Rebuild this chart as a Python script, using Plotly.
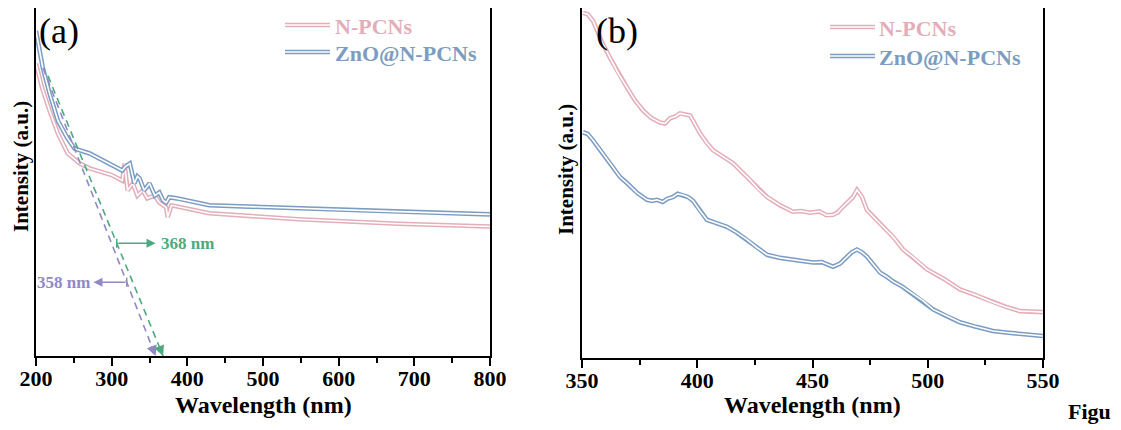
import plotly.graph_objects as go

# panel (a): absorption, wavelength (nm) vs intensity (a.u.)
wl_a_npcn = [200, 208, 218, 229, 242, 258, 271, 300, 314, 317, 321, 328, 334, 341, 347, 357, 363, 372, 374, 379, 429, 547, 679, 800]
int_a_npcn = [84.0, 77.1, 70.5, 63.9, 58.2, 55.3, 53.9, 52.0, 50.4, 55.3, 47.6, 49.6, 46.1, 47.6, 45.3, 46.1, 44.1, 42.7, 39.9, 43.3, 41.0, 39.3, 38.0, 37.2]
wl_a_zno = [200, 209, 218, 229, 241, 251, 271, 300, 314, 318, 324, 330, 334, 337, 343, 347, 350, 357, 363, 368, 372, 376, 386, 429, 547, 679, 800]
int_a_zno = [93.4, 82.8, 75.4, 67.6, 62.8, 59.6, 58.2, 55.0, 53.3, 54.4, 55.3, 49.6, 51.6, 51.0, 47.6, 48.7, 49.6, 46.1, 47.0, 44.7, 44.1, 45.6, 45.3, 43.3, 42.4, 41.5, 40.7]

# tangent lines (start point on the curve, end at the band edge)
tan_purple_x = [209.2, 358]
tan_purple_y = [82.8, 0]
tan_green_x = [215.8, 368]
tan_green_y = [80.5, 0]
edge_labels = ["358 nm", "368 nm"]

# panel (b): PL spectra
wl_b_npcn = [350.4, 352.5, 354.8, 358.5, 362.1, 366, 369.5, 373, 376.5, 380, 383.8, 386, 388.2, 390.5, 392.5, 395, 396.9, 399, 401.2, 404, 406.8, 411, 415.5, 419, 422.9, 426.5, 430.3, 436, 441.5, 445, 448.9, 453, 456, 458.9, 461, 463.2, 465.5, 467.6, 469.3, 471.5, 473.6, 477, 480.6, 485, 489.3, 494, 499.7, 507, 514.0, 521, 528.3, 534, 540.0, 545, 550]
int_b_npcn = [98.6, 98.2, 96.3, 90.5, 85.8, 81.0, 77.3, 73.6, 70.7, 68.6, 67.3, 67.0, 68.5, 69.0, 69.9, 69.6, 69.3, 66.8, 64.2, 61.6, 59.4, 57.6, 55.7, 53.4, 50.9, 48.2, 46.0, 43.6, 41.8, 42.0, 41.5, 41.9, 40.8, 40.9, 41.6, 43.2, 44.6, 46.0, 48.0, 46.0, 42.3, 39.9, 37.5, 34.6, 31.0, 28.6, 25.3, 22.6, 19.6, 17.9, 15.9, 14.6, 13.4, 13.3, 13.1]
wl_b_zno = [350.4, 352.5, 354.8, 357.8, 362.1, 366.5, 369.5, 373.9, 378.2, 380.5, 382.5, 385, 387, 389.5, 391.5, 393.8, 396, 398.2, 401, 404.2, 408, 412.9, 417, 421.6, 426, 430.3, 436, 441.5, 446, 450.2, 454, 458.9, 462, 465.0, 467, 469.3, 471.5, 473.6, 476.5, 479.3, 482, 484.9, 489, 493.6, 498, 502.3, 508, 514.0, 521, 528.3, 535, 543.1, 550]
int_b_zno = [64.5, 64.0, 62.2, 59.4, 55.7, 51.7, 50.0, 47.2, 45.2, 44.9, 45.2, 44.6, 45.5, 46.0, 46.9, 46.6, 46.0, 44.9, 42.2, 39.5, 38.6, 37.5, 35.9, 33.8, 31.5, 29.5, 28.6, 28.1, 27.8, 27.3, 27.4, 26.1, 27.0, 29.0, 30.2, 31.0, 30.2, 29.0, 26.6, 24.4, 23.3, 21.9, 20.4, 18.2, 16.3, 13.9, 12.0, 10.2, 8.9, 7.7, 7.2, 6.8, 6.3]

series_names = ["N-PCNs", "ZnO@N-PCNs"]
pink = "#E3AEB9"
blue = "#7C9CC2"
purple = "#9188C6"
green = "#4DAA80"
serif = "Liberation Serif"

# the page body has an 8px margin, so the figure is drawn 8px smaller and
# positions below are given in window pixels and shifted back by OFF
OFF = 8
W, H = 1121 - OFF, 430 - OFF


def px_x(p):
    return min(max((p - OFF) / W, 0), 1)


def px_y(p):
    return min(max(1 - (p - OFF) / H, 0), 1)


fig = go.Figure()


def hollow(x, y, color, xa, ya):
    # outer coloured line with a thin white core, like the original
    fig.add_trace(go.Scatter(x=x, y=y, mode="lines", xaxis=xa, yaxis=ya,
                             line=dict(color=color, width=4.6), showlegend=False, hoverinfo="skip"))
    fig.add_trace(go.Scatter(x=x, y=y, mode="lines", xaxis=xa, yaxis=ya,
                             line=dict(color="white", width=1.6), showlegend=False, hoverinfo="skip"))


hollow(wl_a_npcn, int_a_npcn, pink, "x", "y")
hollow(wl_a_zno, int_a_zno, blue, "x", "y")
hollow(wl_b_npcn, int_b_npcn, pink, "x2", "y2")
hollow(wl_b_zno, int_b_zno, blue, "x2", "y2")

# dashed tangents with arrowheads at the axis
for tx, ty, col in [(tan_purple_x, tan_purple_y, purple), (tan_green_x, tan_green_y, green)]:
    fig.add_trace(go.Scatter(x=tx, y=ty, mode="lines", xaxis="x", yaxis="y",
                             line=dict(color=col, width=1.6, dash="7px,5px"),
                             showlegend=False, hoverinfo="skip"))
    fx = tx[1] - (tx[1] - tx[0]) * 0.04
    fy = ty[1] + (ty[0] - ty[1]) * 0.04
    fig.add_annotation(x=tx[1], y=ty[1], ax=fx, ay=fy, xref="x", yref="y", axref="x", ayref="y",
                       text="", showarrow=True, arrowhead=2, arrowsize=1.3, arrowwidth=1.6, arrowcolor=col)


def on_line(tx, ty, yv):
    return tx[0] + (ty[0] - yv) / (ty[0] - ty[1]) * (tx[1] - tx[0])


# band edge markers
g_y = 32.4
g_tail = on_line(tan_green_x, tan_green_y, g_y)
p_y = 21.2
p_tail = on_line(tan_purple_x, tan_purple_y, p_y)
for tail, head, yv, col, txt, anchor, tx_pos in [
    (g_tail, 358.0, g_y, green, edge_labels[1], "left", 363.0),
    (p_tail, 276.0, p_y, purple, edge_labels[0], "right", 274.0),
]:
    fig.add_annotation(x=head, y=yv, ax=tail, ay=yv, xref="x", yref="y", axref="x", ayref="y",
                       text="", showarrow=True, arrowhead=2, arrowsize=1.2, arrowwidth=1.5, arrowcolor=col)
    fig.add_shape(type="line", xref="x", yref="y", x0=tail, x1=tail, y0=yv - 1.3, y1=yv + 1.3,
                  line=dict(color=col, width=1.5))
    fig.add_annotation(x=tx_pos, y=yv, xref="x", yref="y", text=txt, showarrow=False,
                       xanchor=anchor, yanchor="middle",
                       font=dict(family=serif, size=17, color=col, weight="bold"))

# legends drawn by hand (hollow line samples)
for x0, x1, ys, tx in [(285, 330, [25, 52], 333), (830, 875, [27, 56], 877)]:
    for yp, col, name in zip(ys, [pink, blue], series_names):
        for c, w in [(col, 4.6), ("white", 1.6)]:
            fig.add_shape(type="line", xref="paper", yref="paper",
                          x0=px_x(x0), x1=px_x(x1), y0=px_y(yp), y1=px_y(yp),
                          line=dict(color=c, width=w))
        fig.add_annotation(x=px_x(tx), y=px_y(yp + 1), xref="paper", yref="paper", text=name,
                           showarrow=False, xanchor="left", yanchor="middle",
                           font=dict(family=serif, size=22, color=col, weight="bold"))

# panel labels, axis titles and the stray caption text
texts = [
    ("(a)", 59, 31, 0, 36, "normal", "center"),
    ("(b)", 617, 31, 0, 36, "normal", "center"),
    ("Intensity (a.u.)", 21, 167, -90, 21, "bold", "center"),
    ("Intensity (a.u.)", 566, 170, -90, 21, "bold", "center"),
    ("Wavelength (nm)", 263, 405, 0, 24, "bold", "center"),
    ("Wavelength (nm)", 812, 405, 0, 24, "bold", "center"),
    ("Figu", 1066, 411, 0, 22, "bold", "left"),
]
for t, px, py, ang, size, wt, anchor in texts:
    fig.add_annotation(x=px_x(px), y=px_y(py), xref="paper", yref="paper", text=t, showarrow=False,
                       textangle=ang, xanchor=anchor, yanchor="middle",
                       font=dict(family=serif, size=size, color="black", weight=wt))

xaxis_common = dict(showgrid=False, zeroline=False, showline=True, linecolor="black", linewidth=2,
                    mirror=True, ticks="outside", ticklen=8, tickwidth=2, tickcolor="black",
                    automargin=False, ticklabelstandoff=-6,
                    tickfont=dict(family=serif, size=22, color="black", weight="bold"))
yaxis_common = dict(showgrid=False, zeroline=False, showline=True, linecolor="black", linewidth=2,
                    mirror=True, showticklabels=False, ticks="", range=[0, 100], automargin=False)

fig.update_layout(
    width=W, height=H,
    margin=dict(l=0, r=0, t=0, b=0),
    paper_bgcolor="white", plot_bgcolor="white",
    showlegend=False,
    xaxis=dict(domain=[px_x(36), px_x(490)], range=[200, 800], dtick=100,
               minor=dict(dtick=50, ticks="outside", ticklen=5, tickwidth=2, tickcolor="black"),
               anchor="y", **xaxis_common),
    yaxis=dict(domain=[px_y(356), px_y(8)], anchor="x", **yaxis_common),
    xaxis2=dict(domain=[px_x(582), px_x(1043)], range=[350, 550], dtick=50,
                minor=dict(dtick=25, ticks="outside", ticklen=5, tickwidth=2, tickcolor="black"),
                anchor="y2", **xaxis_common),
    yaxis2=dict(domain=[px_y(358), px_y(8)], anchor="x2", **yaxis_common),
)

fig.write_html("out.html")
